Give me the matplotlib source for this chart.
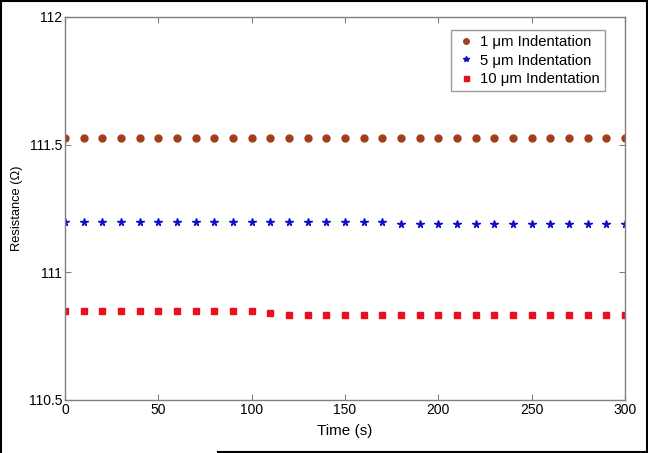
import matplotlib
matplotlib.use("Agg")
import matplotlib.pyplot as plt
from matplotlib.lines import Line2D

plt.rcParams['font.family'] = ['Liberation Sans', 'DejaVu Sans']

time_s = list(range(0, 301, 10))
r_1um = [111.526] * 31
r_5um = [111.198] * 18 + [111.189] * 13
r_10um = [110.848] * 11 + [110.840] + [110.832] * 19

x_ticks = [0, 50, 100, 150, 200, 250, 300]
y_ticks = [110.5, 111, 111.5, 112]
y_tick_labels = ['110.5', '111', '111.5', '112']

fig = plt.figure(figsize=(6.48, 4.53), dpi=100)
ax = fig.add_axes([65/648, 1-400/453, 560/648, 383/453])

ax.plot(time_s, r_1um, linestyle='none', marker='o', ms=5, color='#a0401a',
        markeredgecolor='#a0401a', label='1 μm Indentation')
ax.plot(time_s, r_5um, linestyle='none', marker='*', ms=5.5, color='#1010c8',
        markeredgecolor='#1010c8', label='5 μm Indentation')
ax.plot(time_s, r_10um, linestyle='none', marker='s', ms=4.5, color='#e8101e',
        markeredgecolor='#e8101e', label='10 μm Indentation')

ax.set_xlim(0, 300)
ax.set_ylim(110.5, 112)
ax.set_xticks(x_ticks)
ax.set_yticks(y_ticks)
ax.set_yticklabels(y_tick_labels)
ax.tick_params(direction='in', length=4, color='#808080', labelsize=10,
               top=True, right=True, pad=2)
for s in ax.spines.values():
    s.set_color('#808080')
    s.set_linewidth(1.0)

ax.set_xlabel('Time (s)', fontsize=11, labelpad=5)
ax.set_ylabel('Resistance (Ω)', fontsize=9.3, labelpad=4)

leg = ax.legend(loc='upper right', bbox_to_anchor=(0.964, 0.966), borderaxespad=0,
                fontsize=10.7, frameon=True, fancybox=False, edgecolor='#808080',
                handletextpad=0.3, borderpad=0.35, labelspacing=0.3,
                handlelength=1.3, markerscale=0.8)
leg.get_frame().set_linewidth(1.0)

# outer image border
fig.add_artist(Line2D([0.0015, 0.0015], [0, 1], color='black', lw=1.5, transform=fig.transFigure))
fig.add_artist(Line2D([0, 1], [0.998, 0.998], color='black', lw=1.5, transform=fig.transFigure))
fig.add_artist(Line2D([0.9985, 0.9985], [0, 1], color='black', lw=1.5, transform=fig.transFigure))
fig.add_artist(Line2D([218/648, 1], [0.002, 0.002], color='black', lw=1.5, transform=fig.transFigure))

fig.savefig('out.png', dpi=100)
